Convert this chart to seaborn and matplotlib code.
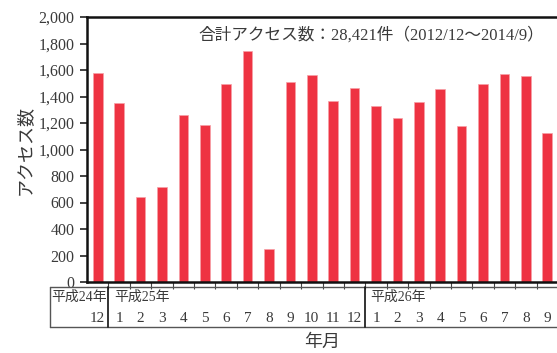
import matplotlib
matplotlib.use("Agg")
import matplotlib.pyplot as plt
import matplotlib.transforms as mtransforms
from matplotlib.lines import Line2D
import seaborn as sns
import pandas as pd

# ---- data ----
periods = ["2012/12", "2013/1", "2013/2", "2013/3", "2013/4", "2013/5", "2013/6",
           "2013/7", "2013/8", "2013/9", "2013/10", "2013/11", "2013/12",
           "2014/1", "2014/2", "2014/3", "2014/4", "2014/5", "2014/6",
           "2014/7", "2014/8", "2014/9"]
months = ["12", "1", "2", "3", "4", "5", "6", "7", "8", "9", "10", "11", "12",
          "1", "2", "3", "4", "5", "6", "7", "8", "9"]
access = [1574, 1352, 642, 720, 1264, 1183, 1493, 1744, 252, 1510, 1561, 1365,
          1465, 1325, 1241, 1355, 1455, 1175, 1498, 1573, 1554, 1125]
year_labels = ["平成24年", "平成25年", "平成26年"]
year_starts = [0, 1, 13]
y_ticks = [0, 200, 400, 600, 800, 1000, 1200, 1400, 1600, 1800, 2000]
total_text = "合計アクセス数：28,421件（2012/12～2014/9）"
ylabel = "アクセス数"
xlabel = "年月"

sns.set_theme(style="white")
FONT = ["Liberation Serif", "Noto Sans CJK JP", "DejaVu Sans"]
plt.rcParams["font.family"] = FONT
TXT = "#3a3a3a"

df = pd.DataFrame({"period": periods, "access": access})

fig = plt.figure(figsize=(5.57, 3.53), dpi=100)
W, H = 557, 353
left, right, top, bottom = 87, 558, 17, 282
ax = fig.add_axes([left / W, 1 - bottom / H, (right - left) / W, (bottom - top) / H])

sns.barplot(data=df, x="period", y="access", order=periods, color="#EE3342",
            saturation=1, width=0.45, ax=ax, edgecolor="#F7A0A6", linewidth=0.5)

ax.set_xlim(-0.5, len(periods) - 0.5)
ax.set_ylim(0, 2000)
ax.set_yticks(y_ticks)
ax.set_yticklabels([f"{v:,}" for v in y_ticks], fontsize=11.5, color=TXT)
ax.tick_params(axis="y", direction="out", length=5, width=1.2, color="#222222",
               left=True, pad=4)
ax.set_xticks([i + 0.5 for i in range(len(periods))])
ax.set_xticklabels([])
ax.tick_params(axis="x", direction="out", length=5, width=0.8, color="#444444",
               bottom=True)
ax.set_xlabel("")
ax.set_ylabel("")
for s in ["left", "bottom", "top", "right"]:
    ax.spines[s].set_color("#111111")
    ax.spines[s].set_linewidth(1.8)

# total annotation
ax.text((198 - left) / (right - left), (bottom - 35) / (bottom - top), total_text,
        transform=ax.transAxes, ha="left", va="center", fontsize=12, color=TXT)

# axis labels
fig.text(25 / W, 1 - 150 / H, ylabel, rotation=90, ha="center", va="center",
         fontsize=13, color=TXT)
fig.text(322 / W, 1 - 342 / H, xlabel, ha="center", va="center",
         fontsize=13, color=TXT)

# table beneath the axis
trans = mtransforms.blended_transform_factory(ax.transData, ax.transAxes)
span = bottom - top
def yax(py):
    return (bottom - py) / span

x_left = -0.5 + (50 - left) / ((right - left) / len(periods))
x_right = len(periods) + 0.5
for py in (287, 327):
    ax.add_line(Line2D([x_left, x_right], [yax(py), yax(py)], transform=trans,
                       color="#555555", lw=1.0, clip_on=False))
ax.add_line(Line2D([x_left, x_left], [yax(287), yax(327)], transform=trans,
                   color="#555555", lw=1.0, clip_on=False))
for xs in (0.5, 12.5):
    ax.add_line(Line2D([xs, xs], [yax(287), yax(327)], transform=trans,
                       color="#111111", lw=1.2, clip_on=False))

for lab, st in zip(year_labels, year_starts):
    xpos = x_left + 0.05 if st == 0 else st - 0.5 + 0.25
    ax.text(xpos, yax(297.5), lab, transform=trans, ha="left", va="center",
            fontsize=10, color=TXT)
for i, m in enumerate(months):
    ax.text(i, yax(319), m, transform=trans, ha="center", va="center",
            fontsize=11, color=TXT)

fig.savefig("out.png", dpi=100)
